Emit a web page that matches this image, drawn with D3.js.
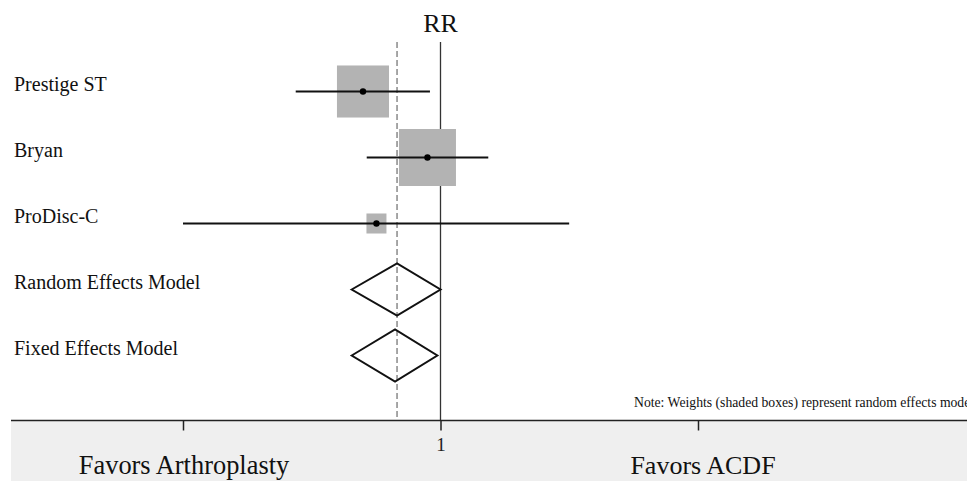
<!DOCTYPE html>
<html>
<head>
<meta charset="utf-8">
<script src="https://cdn.jsdelivr.net/npm/d3@7"></script>
<style>
  body { margin: 0; background: #fff; }
  svg { display: block; font-family: 'Liberation Serif', 'Times New Roman', serif; }
</style>
</head>
<body>
<div class="view"></div>
<script>
// data (risk ratios, log scale)
const studies = ['Prestige ST', 'Bryan', 'ProDisc-C']
const rr = [0.50, 0.89, 0.564]
const lower = [0.274, 0.517, 0.10]
const upper = [0.91, 1.533, 3.16]
const weights = [42.6, 51.1, 6.3]   // random effects weights, %

const models = ['Random Effects Model', 'Fixed Effects Model']
const modelRR = [0.678, 0.666]
const modelLower = [0.452, 0.452]
const modelUpper = [1.0, 0.972]

const tickValues = [0.1, 1, 10]

const w = 967
const h = 481
const axisY = 420.5

const svg = d3.select('.view')
  .append('svg')
  .attr('width', w)
  .attr('height', h)

// scales
const xScale = d3.scaleLog()
  .domain([0.1, 10])
  .range([183, 698])

const yScale = d3.scalePoint()
  .domain(studies.concat(models))
  .range([91.5, 355.5])

const boxSize = d3.scaleSqrt()
  .domain([0, d3.max(weights)])
  .range([0, 57])

// grey band under the axis
svg.append('rect')
  .attr('x', 11)
  .attr('y', axisY)
  .attr('width', w - 11)
  .attr('height', h - axisY)
  .attr('fill', '#efefef')

// reference lines
svg.append('line')
  .attr('x1', xScale(modelRR[0])).attr('x2', xScale(modelRR[0]))
  .attr('y1', 42).attr('y2', axisY)
  .attr('stroke', '#8a8a8a')
  .attr('stroke-width', 1.5)
  .attr('stroke-dasharray', '6,3')

svg.append('line')
  .attr('x1', xScale(1)).attr('x2', xScale(1))
  .attr('y1', 42).attr('y2', axisY)
  .attr('stroke', '#333')
  .attr('stroke-width', 1.3)

// title
svg.append('text')
  .attr('x', xScale(1))
  .attr('y', 31.5)
  .attr('text-anchor', 'middle')
  .attr('font-size', 26)
  .attr('fill', '#111')
  .text('RR')

// study rows
const study = studies.map((s, i) => ({name: s, rr: rr[i], lo: lower[i], hi: upper[i], wt: weights[i]}))

svg.selectAll('.box')
  .data(study)
  .enter()
  .append('rect')
  .attr('class', 'box')
  .attr('x', (d) => xScale(d.rr) - boxSize(d.wt) / 2)
  .attr('y', (d) => yScale(d.name) - boxSize(d.wt) / 2)
  .attr('width', (d) => boxSize(d.wt))
  .attr('height', (d) => boxSize(d.wt))
  .attr('fill', '#b3b3b3')

svg.selectAll('.ci')
  .data(study)
  .enter()
  .append('line')
  .attr('class', 'ci')
  .attr('x1', (d) => xScale(d.lo))
  .attr('x2', (d) => xScale(d.hi))
  .attr('y1', (d) => yScale(d.name))
  .attr('y2', (d) => yScale(d.name))
  .attr('stroke', '#111')
  .attr('stroke-width', 2)

svg.selectAll('.pt')
  .data(study)
  .enter()
  .append('circle')
  .attr('class', 'pt')
  .attr('cx', (d) => xScale(d.rr))
  .attr('cy', (d) => yScale(d.name))
  .attr('r', 3.2)
  .attr('fill', '#000')

// summary diamonds
const model = models.map((m, i) => ({name: m, rr: modelRR[i], lo: modelLower[i], hi: modelUpper[i]}))
const half = 26

svg.selectAll('.diamond')
  .data(model)
  .enter()
  .append('path')
  .attr('class', 'diamond')
  .attr('d', (d) => {
    const y = yScale(d.name)
    return 'M' + xScale(d.lo) + ',' + y +
      'L' + xScale(d.rr) + ',' + (y - half) +
      'L' + xScale(d.hi) + ',' + y +
      'L' + xScale(d.rr) + ',' + (y + half) + 'Z'
  })
  .attr('fill', 'none')
  .attr('stroke', '#111')
  .attr('stroke-width', 2)

// row labels
svg.selectAll('.label')
  .data(studies.concat(models))
  .enter()
  .append('text')
  .attr('class', 'label')
  .attr('x', 14)
  .attr('y', (d) => yScale(d) - 1)
  .attr('font-size', 20)
  .attr('fill', '#111')
  .text((d) => d)

// axis
svg.append('line')
  .attr('x1', 11).attr('x2', w)
  .attr('y1', axisY).attr('y2', axisY)
  .attr('stroke', '#222')
  .attr('stroke-width', 1.5)

const xAxis = d3.axisBottom(xScale)
  .tickValues(tickValues)
  .tickSize(10)
  .tickFormat((d) => d === 1 ? '1' : '')

const gx = svg.append('g')
  .attr('class', 'x-axis')
  .attr('transform', 'translate(0,' + axisY + ')')
  .call(xAxis)

gx.select('.domain').remove()
gx.selectAll('line').attr('stroke', '#222').attr('stroke-width', 1.5)
gx.selectAll('text')
  .attr('y', 30)
  .attr('dy', 0)
  .attr('font-size', 19)
  .attr('font-family', "'Liberation Serif', serif")
  .attr('fill', '#222')

// side captions
svg.append('text')
  .attr('x', xScale(0.1) + 1)
  .attr('y', 474)
  .attr('text-anchor', 'middle')
  .attr('font-size', 26.4)
  .attr('fill', '#111')
  .text('Favors Arthroplasty')

svg.append('text')
  .attr('x', xScale(10) + 5)
  .attr('y', 474)
  .attr('text-anchor', 'middle')
  .attr('font-size', 26)
  .attr('fill', '#111')
  .text('Favors ACDF')

// note (runs off the right edge, as in the original)
svg.append('text')
  .attr('x', 634)
  .attr('y', 406.5)
  .attr('font-size', 13.7)
  .attr('fill', '#111')
  .text('Note: Weights (shaded boxes) represent random effects model')
</script>
</body>
</html>
